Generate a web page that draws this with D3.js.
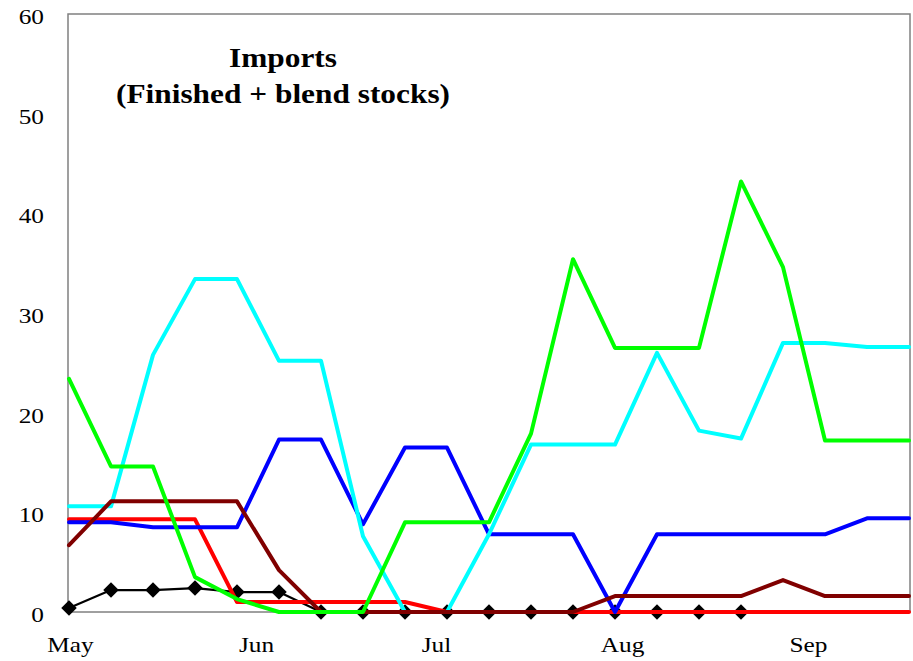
<!DOCTYPE html>
<html>
<head>
<meta charset="utf-8">
<script src="https://cdn.jsdelivr.net/npm/d3@7"></script>
<style>
  html, body { margin: 0; padding: 0; background: #fff; }
  svg { display: block; }
  text { font-family: "Liberation Serif", "Times New Roman", serif; fill: #000; }
</style>
</head>
<body>
<svg id="chart" width="913" height="661"></svg>
<script>
// ---- Data (weekly, starting May 1) ----
const weekStarts = d3.range(21).map(i => d3.timeDay.offset(new Date(2003, 4, 1), 7 * i));
const monthTicks = [new Date(2003,4,1), new Date(2003,5,1), new Date(2003,6,1), new Date(2003,7,1), new Date(2003,8,1)];
const yTicks = [0, 10, 20, 30, 40, 50, 60];

const blackVals  = [0.4, 2.2, 2.2, 2.4, 2.0, 2.0, 0, 0, 0, 0, 0, 0, 0, 0, 0, 0, 0, null, null, null, null];
const redVals    = [9.3, 9.3, 9.3, 9.3, 1.0, 1.0, 1.0, 1.0, 1.0, 0, 0, 0, 0, 0, 0, 0, 0, 0, 0, 0, 0];
const blueVals   = [9.0, 9.0, 8.5, 8.5, 8.5, 17.3, 17.3, 8.8, 16.5, 16.5, 7.8, 7.8, 7.8, 0, 7.8, 7.8, 7.8, 7.8, 7.8, 9.4, 9.4];
const cyanVals   = [10.6, 10.6, 25.8, 33.4, 33.4, 25.2, 25.2, 7.6, 0, 0, 7.8, 16.8, 16.8, 16.8, 26.0, 18.2, 17.4, 27.0, 27.0, 26.6, 26.6];
const maroonVals = [6.7, 11.1, 11.1, 11.1, 11.1, 4.2, 0, 0, 0, 0, 0, 0, 0, 1.6, 1.6, 1.6, 1.6, 3.2, 1.6, 1.6, 1.6];
const greenVals  = [23.4, 14.6, 14.6, 3.5, 1.3, 0, 0, 0, 9.0, 9.0, 9.0, 17.9, 35.4, 26.5, 26.5, 26.5, 43.2, 34.6, 17.2, 17.2, 17.2];

const titleLines = ["Imports", "(Finished + blend stocks)"];

// ---- Layout ----
const svg = d3.select("#chart");
const frame = { left: 68, right: 910, top: 14, bottom: 612 };
const x = d3.scaleTime()
  .domain([weekStarts[0], weekStarts[weekStarts.length - 1]])
  .range([69, 909]);
const y = d3.scaleLinear().domain([0, 60]).range([frame.bottom, frame.top]);
const STRETCH = 1.15;

// frame
svg.append("rect")
  .attr("x", frame.left).attr("y", frame.top)
  .attr("width", frame.right - frame.left).attr("height", frame.bottom - frame.top)
  .attr("fill", "none").attr("stroke", "#808080").attr("stroke-width", 1.5);

// y axis
const yAxis = svg.append("g")
  .attr("transform", `translate(${frame.left},0)`)
  .call(d3.axisLeft(y).tickValues(yTicks).tickSize(0).tickFormat(d3.format("d")));
yAxis.select(".domain").remove();
yAxis.selectAll("text")
  .attr("font-family", "Liberation Serif")
  .attr("font-size", 22)
  .attr("text-anchor", "end")
  .attr("x", -24 / STRETCH)
  .attr("dy", "0.43em")
  .attr("transform", `scale(${STRETCH},1)`);

// x axis
const xAxis = svg.append("g")
  .attr("transform", `translate(0,${frame.bottom})`)
  .call(d3.axisBottom(x).tickValues(monthTicks).tickSize(0).tickFormat(d3.timeFormat("%b")));
xAxis.select(".domain").remove();
xAxis.selectAll("text")
  .attr("font-family", "Liberation Serif")
  .attr("font-size", 22)
  .attr("y", 40)
  .attr("dy", 0)
  .attr("transform", `scale(${STRETCH},1)`)
  .each(function () {
    const g = d3.select(this.parentNode);
    const t = g.attr("transform");
    const m = /translate\(([-\d.]+)/.exec(t);
    const cx = m ? +m[1] : 0;
    g.attr("transform", `translate(${cx},0)`);
    d3.select(this).attr("x", 1 / STRETCH);
  });

// series
const line = d3.line()
  .defined(d => d.v !== null)
  .x(d => x(d.t))
  .y(d => y(d.v));

function toPts(vals) { return vals.map((v, i) => ({ t: weekStarts[i], v })); }

const series = [
  { vals: blackVals, color: "#000000", width: 2.2 },
  { vals: redVals, color: "#FF0000", width: 4 },
  { vals: blueVals, color: "#0000FF", width: 4 },
  { vals: cyanVals, color: "#00FFFF", width: 4 },
  { vals: maroonVals, color: "#800000", width: 4 },
  { vals: greenVals, color: "#00FF00", width: 4 }
];

const gLines = svg.append("g").attr("fill", "none");
series.forEach((s, idx) => {
  gLines.append("path")
    .datum(toPts(s.vals))
    .attr("d", line)
    .attr("stroke", s.color)
    .attr("stroke-width", s.width)
    .attr("stroke-linejoin", "round")
    .attr("stroke-linecap", "round");
  if (idx === 0) {
    gLines.selectAll(".diamond")
      .data(toPts(s.vals).filter(d => d.v !== null))
      .join("path")
      .attr("class", "diamond")
      .attr("d", d3.symbol(d3.symbolSquare, 120))
      .attr("transform", d => `translate(${x(d.t)},${y(d.v)}) rotate(45)`)
      .attr("fill", "#000");
  }
});

// title
const title = svg.append("g").attr("transform", "translate(283,0) scale(1.12,1)");
title.selectAll("text")
  .data(titleLines)
  .join("text")
  .attr("x", 0)
  .attr("y", (d, i) => 67 + i * 36)
  .attr("text-anchor", "middle")
  .attr("font-family", "Liberation Serif")
  .attr("font-weight", "bold")
  .attr("font-size", 28)
  .text(d => d);
</script>
</body>
</html>
